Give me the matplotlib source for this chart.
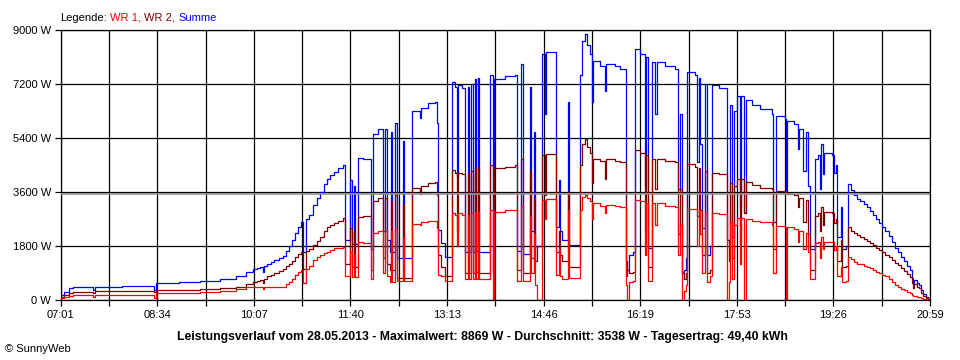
import matplotlib
matplotlib.use("Agg")
import matplotlib.pyplot as plt
import numpy as np

# Leistungsverlauf 28.05.2013, values (W)
times = [
    "07:01", "07:04", "07:09", "07:13", "07:32", "07:34", "08:00", "08:29", "08:31", "08:33",
    "08:55", "09:15", "09:35", "09:50", "10:00", "10:06", "10:10", "10:13", "10:16", "10:17",
    "10:20", "10:24", "10:27", "10:31", "10:35", "10:38", "10:41", "10:44", "10:47", "10:50",
    "10:53", "10:55", "10:57", "11:00", "11:04", "11:08", "11:11", "11:15", "11:18", "11:21",
    "11:24", "11:28", "11:33",
    "11:35", "11:40", "11:42", "11:44", "11:45", "11:48", "11:52", "12:00", "12:02", "12:07",
    "12:12", "12:14", "12:16", "12:18", "12:19", "12:20", "12:23", "12:25", "12:31", "12:32",
    "12:40", "12:47", "12:48", "12:55",
    "13:02", "13:04", "13:05", "13:08", "13:11", "13:18", "13:21", "13:23", "13:24", "13:28",
    "13:31", "13:34", "13:35", "13:37", "13:38", "13:40", "13:41", "13:43", "13:44", "13:55",
    "13:58", "13:59", "14:09", "14:19", "14:21", "14:25", "14:27", "14:33", "14:34", "14:37",
    "14:38", "14:40", "14:45", "14:48", "14:49", "14:58", "15:01", "15:02", "15:04", "15:10",
    "15:11", "15:22", "15:24", "15:26", "15:28", "15:31", "15:33", "15:34", "15:41", "15:46",
    "15:47", "15:55", "16:00", "16:06", "16:07", "16:09", "16:13", "16:15", "16:19", "16:24",
    "16:25", "16:27", "16:31", "16:34", "16:36", "16:44", "16:53", "16:56", "16:58", "17:00",
    "17:02", "17:04", "17:05", "17:12", "17:14", "17:16", "17:17", "17:19", "17:22", "17:24",
    "17:27", "17:29", "17:36", "17:43", "17:45", "17:46", "17:48", "17:50", "17:53", "17:56",
    "17:57", "18:00", "18:02", "18:07", "18:15", "18:27", "18:28", "18:31", "18:39", "18:40",
    "18:41", "18:48", "18:52", "18:53", "18:57", "18:59", "19:01", "19:03", "19:08", "19:11",
    "19:13", "19:14", "19:16", "19:17", "19:25", "19:26", "19:28", "19:29", "19:33", "19:34",
    "19:38",
    "19:40", "19:43", "19:46", "19:49", "19:52", "19:55", "19:58", "20:01", "20:04", "20:07",
    "20:10", "20:13", "20:16", "20:19", "20:22", "20:25", "20:28", "20:31", "20:34", "20:37",
    "20:40", "20:42", "20:43", "20:44", "20:46", "20:48", "20:50", "20:52", "20:55", "20:57",
    "20:59",
]
wr1 = [
    60, 100, 150, 160, 110, 165, 170, 175, 60, 230,
    240, 260, 290, 380, 420, 420, 420, 420, 380, 420,
    420, 420, 420, 420, 430, 520, 600, 700, 820, 920,
    1000, 560, 1050, 1130, 1330, 1420, 1500, 1560, 1610, 1670,
    1720, 1750, 1780,
    800, 1600, 780, 1500, 780, 1950, 1900, 700, 2250, 2300,
    900, 2300, 800, 600, 2300, 600, 2400, 650, 2100, 650,
    2550, 2500, 2600, 2650,
    2650, 2400, 850, 800, 650, 2900, 2850, 1800, 2900, 2850,
    700, 2850, 700, 2900, 700, 2950, 700, 2950, 700, 3000,
    0, 2950, 3000, 3000, 650, 3150, 650, 2800, 900, 2200,
    500, 0, 3350, 2700, 3380, 850, 1700, 800, 700, 3000,
    750, 3000, 3450, 3500, 3400, 3300, 2700, 3250, 3150, 2900,
    3180, 3150, 3100, 500, 0, 600, 650, 3350, 3300, 1500,
    3250, 650, 3230, 2500, 3230, 3150, 3100, 1500, 2500, 0,
    300, 500, 3050, 3050, 1800, 3000, 2200, 900, 2900, 600,
    800, 2900, 2880, 0, 600, 2600, 700, 2500, 2750, 1200,
    2750, 0, 2700, 2650, 2600, 2500, 900, 2480, 2420, 0,
    2420, 2380, 1950, 2300, 1700, 2250, 1600, 700, 1900, 1950,
    1400, 2100, 1700, 1950, 1950, 1670, 1800, 800, 1100, 600,
    650,
    1440, 1360, 1280, 1200, 1190, 1150, 1110, 1060, 1000, 950,
    890, 840, 790, 700, 600, 500, 440, 360, 320, 270,
    220, 180, 150, 130, 110, 90, 70, 50, 30, 10,
    0,
]
wr2 = [
    110, 170, 240, 260, 220, 285, 295, 305, 280, 330,
    345, 370, 410, 430, 520, 600, 640, 680, 560, 700,
    790, 840, 900, 970, 1040, 1130, 1200, 1300, 1420, 1520,
    1600, 1050, 1640, 1700, 1840, 1980, 2110, 2300, 2440, 2500,
    2560, 2650, 2720,
    1200, 2400, 1100, 2300, 1100, 2780, 2800, 1000, 3300, 3400,
    1400, 3400, 1200, 1000, 3300, 1000, 3500, 750, 3200, 750,
    3750, 3550, 3800, 3900,
    3950, 3500, 1500, 1100, 800, 4350, 4250, 2300, 4250, 4200,
    900, 4250, 900, 4300, 900, 4400, 950, 4450, 900, 4500,
    900, 4400, 4450, 4500, 1000, 4700, 900, 4300, 1400, 3400,
    1300, 1800, 4850, 3500, 4880, 1600, 2300, 1500, 1300, 3600,
    1100, 4500, 5200, 5370, 5100, 4900, 3900, 4700, 4650, 4050,
    4700, 4650, 4600, 800, 1000, 900, 950, 5000, 4900, 2300,
    4850, 1100, 4700, 3700, 4700, 4650, 4600, 2200, 3700, 900,
    700, 900, 4550, 4450, 2800, 4400, 3000, 1500, 4300, 900,
    1000, 4250, 4200, 2000, 1300, 3900, 1400, 3800, 4050, 1900,
    4050, 2900, 3950, 3850, 3750, 3700, 1700, 3650, 3600, 3600,
    3550, 3500, 3100, 3400, 2600, 3350, 2200, 1000, 2800, 2900,
    2300, 3100, 2500, 2950, 2900, 2560, 2700, 1300, 2000, 1100,
    1150,
    2440, 2300, 2220, 2170, 2110, 2050, 1980, 1900, 1820, 1750,
    1670, 1590, 1500, 1420, 1340, 1250, 1170, 1060, 980, 880,
    780, 560, 400, 540, 450, 400, 250, 150, 60, 20,
    0,
]
average_w = 3538
y_ticks = [0, 1800, 3600, 5400, 7200, 9000]
x_labels = ["07:01", "08:34", "10:07", "11:40", "13:13", "14:46", "16:19", "17:53", "19:26", "20:59"]
title = ("Leistungsverlauf vom 28.05.2013 - Maximalwert: 8869 W - "
         "Durchschnitt: 3538 W - Tagesertrag: 49,40 kWh")


def to_min(s):
    h, m = s.split(":")
    return int(h) * 60 + int(m)


t = np.array([to_min(s) for s in times])
p1 = np.array(wr1)
p2 = np.array(wr2)
total = p1 + p2

plt.rcParams['font.family'] = ['Liberation Sans', 'DejaVu Sans']
fig = plt.figure(figsize=(9.6, 3.6), dpi=100)
ax = fig.add_axes([60.7 / 960, 1 - 300 / 360, (930 - 60.7) / 960, 270 / 360])

t0, t1 = to_min(x_labels[0]), to_min(x_labels[-1])
grid_x = np.linspace(t0, t1, 19)
for gx in grid_x:
    ax.axvline(gx, color='black', lw=0.9, zorder=1)
for gy in y_ticks:
    ax.axhline(gy, color='black', lw=0.9, zorder=1)

ax.plot(t, total, color='#0000ff', lw=0.9, drawstyle='steps-post', zorder=2)
ax.plot(t, p2, color='#800000', lw=0.9, drawstyle='steps-post', zorder=3)
ax.plot(t, p1, color='#ff0000', lw=0.9, drawstyle='steps-post', zorder=4)
ax.axhline(average_w, color='#909090', lw=1.2, zorder=5)

ax.set_xlim(t0, t1)
ax.set_ylim(0, 9000)
ax.set_xticks(grid_x[::2])
ax.set_xticklabels(x_labels)
ax.set_xticks(grid_x[1::2], minor=True)
ax.set_yticks(y_ticks)
ax.set_yticklabels([f"{v} W" for v in y_ticks])
ax.tick_params(axis='both', which='both', direction='out', length=4, width=0.9,
               labelsize=8, pad=3)
for sp in ax.spines.values():
    sp.set_linewidth(0.9)

# multi-coloured legend line at the top
fig.canvas.draw()
r = fig.canvas.get_renderer()
x = 60 / 960
for txt, col in [("Legende:", "black"), ("WR 1,", "#ff0000"),
                 ("WR 2,", "#800000"), ("Summe", "#0000ff")]:
    tx = fig.text(x, 1 - 21 / 360, txt, color=col, fontsize=8, va='baseline')
    w = tx.get_window_extent(renderer=r).width
    x += (w + 3.5) / 960

fig.text(482 / 960, 1 - 337 / 360, title, ha='center', va='center',
         fontsize=8.8, fontweight='bold')
fig.text(5 / 960, 1 - 349 / 360, "\u00a9 SunnyWeb", ha='left', va='center', fontsize=8)

fig.savefig("out.png", dpi=100)
